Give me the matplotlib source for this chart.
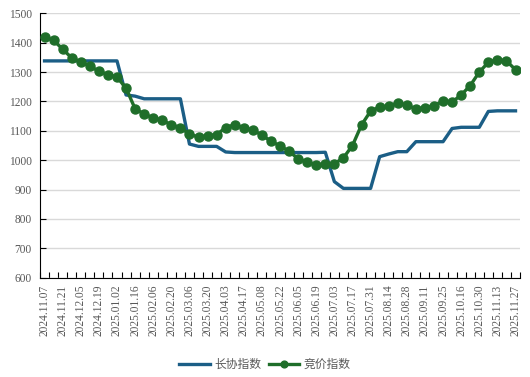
import numpy as np
import matplotlib
matplotlib.use("Agg")
import matplotlib.pyplot as plt

# weekly dates (holiday weeks 01.30, 05.01, 10.02 missing)
dates = ["2024.11.07", "2024.11.14", "2024.11.21", "2024.11.28", "2024.12.05", "2024.12.12",
         "2024.12.19", "2024.12.26", "2025.01.02", "2025.01.09", "2025.01.16", "2025.01.23",
         "2025.02.06", "2025.02.13", "2025.02.20", "2025.02.27", "2025.03.06", "2025.03.13",
         "2025.03.20", "2025.03.27", "2025.04.03", "2025.04.10", "2025.04.17", "2025.04.24",
         "2025.05.08", "2025.05.15", "2025.05.22", "2025.05.29", "2025.06.05", "2025.06.12",
         "2025.06.19", "2025.06.26", "2025.07.03", "2025.07.10", "2025.07.17", "2025.07.24",
         "2025.07.31", "2025.08.07", "2025.08.14", "2025.08.21", "2025.08.28", "2025.09.04",
         "2025.09.11", "2025.09.18", "2025.09.25", "2025.10.09", "2025.10.16", "2025.10.23",
         "2025.10.30", "2025.11.06", "2025.11.13", "2025.11.20", "2025.11.27"]

long_term = [1338, 1338, 1338, 1338, 1338, 1338, 1338, 1338, 1338, 1222,
             1218, 1209, 1209, 1209, 1209, 1209, 1055, 1047, 1047, 1047,
             1028, 1026, 1026, 1026, 1026, 1026, 1026, 1026, 1026, 1026,
             1026, 1027, 927, 904, 904, 904, 904, 1012, 1021, 1029,
             1029, 1063, 1063, 1063, 1063, 1108, 1112, 1112, 1112, 1166,
             1168, 1168, 1168]

auction = [1418, 1408, 1378, 1348, 1335, 1320, 1303, 1291, 1283, 1245,
           1175, 1157, 1144, 1136, 1120, 1111, 1088, 1079, 1083, 1087,
           1111, 1121, 1110, 1102, 1086, 1064, 1049, 1030, 1005, 994,
           984, 986, 988, 1008, 1050, 1120, 1167, 1181, 1183, 1196,
           1187, 1175, 1179, 1186, 1201, 1198, 1222, 1254, 1300, 1333,
           1342, 1338, 1308]

blue = "#1b5e86"
green = "#1f6e2a"
grey = "#595959"

fig = plt.figure(figsize=(5.3, 3.77), dpi=100)
ax = fig.add_axes([0.0755, 0.2634, 0.9057, 0.7013])

x = np.arange(len(dates)) + 0.5
ax.plot(x, long_term, color=blue, lw=2.4, label="长协指数", zorder=3)
ax.plot(x, auction, color=green, lw=2.4, marker="o", ms=6.5, label="竞价指数", zorder=4)

ax.set_xlim(0, len(dates))
ax.set_ylim(600, 1500)
ax.set_yticks(np.arange(600, 1501, 100))
ax.grid(axis="y", color="#d9d9d9", lw=1)
ax.set_axisbelow(True)

for s in ["top", "right"]:
    ax.spines[s].set_visible(False)
ax.spines["left"].set_color("black")
ax.spines["bottom"].set_color("black")

# category boundaries get tick marks, every other category gets a label
ax.set_xticks(np.arange(len(dates) + 1))
ax.set_xticklabels([])
ax.set_xticks(x[::2], minor=True)
ax.set_xticklabels(dates[::2], minor=True, rotation=90)
ax.tick_params(axis="x", which="major", direction="in", length=4, color="black")
ax.tick_params(axis="x", which="minor", length=0, pad=5)
ax.tick_params(axis="y", direction="in", length=4, pad=6)

for lab in ax.get_xticklabels(minor=True) + ax.get_yticklabels():
    lab.set_fontfamily("Liberation Serif")
    lab.set_fontsize(8.3)
    lab.set_color(grey)

leg = fig.legend(loc="center", bbox_to_anchor=(0.5, 0.034), ncol=2, frameon=False,
                 handlelength=2.6, columnspacing=0.6, handletextpad=0.4, markerscale=0.75,
                 prop={"family": ["Noto Sans CJK SC", "DejaVu Sans"], "size": 8.5})
for t in leg.get_texts():
    t.set_color(grey)

fig.savefig("out.png", dpi=100)
